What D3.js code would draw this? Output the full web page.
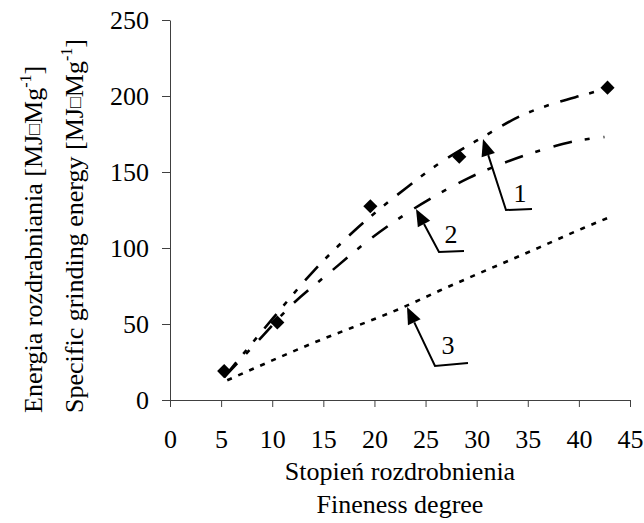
<!DOCTYPE html>
<html>
<head>
<meta charset="utf-8">
<script src="https://cdn.jsdelivr.net/npm/d3@7"></script>
<style>
  body { margin: 0; background: #fff; }
  .axis path, .axis line { stroke: #404040; stroke-width: 1; }
</style>
</head>
<body>
<svg id="Vis" width="644" height="523" font-family="'Liberation Serif', 'Times New Roman', Times, serif">
  <g id="axes"></g>
  <g id="curves"></g>
  <g id="points"></g>
  <g id="arrows"></g>
  <g id="labels"></g>
</svg>
<script>
/*
* DATA
*/

/* measured points */
const pointX = [5.3, 10.5, 19.6, 28.3, 42.8];
const pointY = [19, 51, 127.5, 160, 205.5];

/* trend curves */
const curve1 = [[5.3, 15], [10.1, 54], [14, 84.5], [17.9, 110.5], [23.2, 140], [26.1, 154.6],
  [30.6, 173], [34.5, 187.5], [37.5, 195], [40.4, 200.6], [42.8, 205]];
const curve2 = [[5.3, 15], [8.5, 38], [11.9, 62.5], [15.65, 84], [19.6, 106], [23.8, 125.6],
  [26.4, 136], [29.2, 146], [32.3, 155], [36.9, 165.6], [39.4, 170], [42.5, 173]];
const curve3 = [[5.6, 13], [14, 37.5], [22.8, 61], [26.4, 72], [36.2, 100.6], [40.4, 113], [42.9, 120]];

const curveNames = ["1", "2", "3"];
const xTicks = [0, 5, 10, 15, 20, 25, 30, 35, 40, 45];
const yTicks = [0, 50, 100, 150, 200, 250];

const FONT = "'Liberation Serif', 'Times New Roman', Times, serif";
const FS = 26;

/*
* SETUP
*/

const svg = d3.select("body").select("svg#Vis");

const g = {
  axes: svg.select("g#axes"),
  curves: svg.select("g#curves"),
  points: svg.select("g#points"),
  arrows: svg.select("g#arrows"),
  labels: svg.select("g#labels")
};

const x = d3.scaleLinear().domain([0, 45]).range([170, 630]);
const y = d3.scaleLinear().domain([0, 250]).range([400, 20]);

drawAxes();
drawCurves();
drawPoints();
drawArrows();
drawTitles();

/*
* AXES
*/
function drawAxes() {
  const xAxis = d3.axisBottom(x).tickValues(xTicks).tickSize(7).tickSizeOuter(0);
  const yAxis = d3.axisLeft(y).tickValues(yTicks).tickSize(8).tickSizeOuter(0);

  const gx = g.axes.append("g")
    .attr("class", "axis")
    .attr("transform", translate(0, 400))
    .call(xAxis)
    .attr("font-family", FONT)
    .attr("font-size", FS);
  gx.selectAll("text")
    .attr("y", 48)
    .attr("dy", 0)
    .attr("fill", "#000");

  const gy = g.axes.append("g")
    .attr("class", "axis")
    .attr("transform", translate(170, 0))
    .call(yAxis)
    .attr("font-family", FONT)
    .attr("font-size", FS);
  gy.selectAll("text")
    .attr("x", -21)
    .attr("dy", "0.34em")
    .attr("fill", "#000");
}

/*
* CURVES
*/
function drawCurves() {
  const line = d3.line()
    .x(d => x(d[0]))
    .y(d => y(d[1]))
    .curve(d3.curveMonotoneX);

  // 1: dash-dot-dot, 2: dash-dot, 3: dotted
  const styles = [
    { data: curve1, dash: "19,11,5,11,5,12" },
    { data: curve2, dash: "19,13,5,14" },
    { data: curve3, dash: "5,7" }
  ];

  g.curves.selectAll("path.curve")
    .data(styles)
    .join("path")
      .attr("class", "curve")
      .attr("d", d => line(d.data))
      .attr("fill", "none")
      .attr("stroke", "#000")
      .attr("stroke-width", 2.6)
      .attr("stroke-dasharray", d => d.dash);
}

/* diamonds */
function drawPoints() {
  const diamond = d3.symbol().type(d3.symbolSquare).size(100);
  g.points.selectAll("path.pt")
    .data(pointX.map((v, i) => [v, pointY[i]]))
    .join("path")
      .attr("class", "pt")
      .attr("d", diamond)
      .attr("transform", d => translate(x(d[0]), y(d[1])) + " rotate(45)")
      .attr("fill", "#000");
}

/*
* ARROWS WITH NUMBER LABELS
*/
function drawArrows() {
  // tip, corner, end of the foot, label position (in pixels)
  const arrows = [
    { tip: [483, 139], corner: [506, 210], end: [532, 209], label: [520, 202] },
    { tip: [416, 209], corner: [439, 252], end: [464, 251], label: [451, 243] },
    { tip: [407, 307], corner: [435, 366], end: [468, 363], label: [448, 354] }
  ];

  arrows.forEach(function(a, i) {
    const dx = a.tip[0] - a.corner[0];
    const dy = a.tip[1] - a.corner[1];
    const len = Math.sqrt(dx * dx + dy * dy);
    const ux = dx / len, uy = dy / len;
    const headL = 17, headW = 7;
    const bx = a.tip[0] - ux * headL, by = a.tip[1] - uy * headL;

    g.arrows.append("polyline")
      .attr("points", [a.end, a.corner, [bx, by]].map(p => p.join(",")).join(" "))
      .attr("fill", "none")
      .attr("stroke", "#000")
      .attr("stroke-width", 2);

    g.arrows.append("path")
      .attr("d", "M" + a.tip[0] + "," + a.tip[1] +
        "L" + (bx - uy * headW) + "," + (by + ux * headW) +
        "L" + (bx + uy * headW) + "," + (by - ux * headW) + "Z")
      .attr("fill", "#000");

    g.arrows.append("text")
      .attr("x", a.label[0])
      .attr("y", a.label[1])
      .attr("text-anchor", "middle")
      .attr("font-size", FS)
      .text(curveNames[i]);
  });
}

/*
* AXIS TITLES
*/
function drawTitles() {
  g.labels.append("text")
    .attr("x", 400)
    .attr("y", 480)
    .attr("text-anchor", "middle")
    .attr("font-size", FS)
    .text("Stopień rozdrobnienia");

  g.labels.append("text")
    .attr("x", 400)
    .attr("y", 513)
    .attr("text-anchor", "middle")
    .attr("font-size", FS)
    .text("Fineness degree");

  const yTitles = [
    { text: "Energia rozdrabniania [MJ", x: 42 },
    { text: "Specific grinding energy [MJ", x: 83 }
  ];

  yTitles.forEach(function(t) {
    const txt = g.labels.append("text")
      .attr("transform", translate(t.x, 413) + " rotate(-90)")
      .attr("text-anchor", "start")
      .attr("font-size", FS);
    txt.append("tspan").text(t.text);
    txt.append("tspan").attr("font-size", 18).attr("dy", "-2").text("\u25A1");
    txt.append("tspan").attr("dy", "2").text("Mg");
    txt.append("tspan").attr("font-size", 16).attr("dy", "-11").text("-1");
    txt.append("tspan").attr("dy", "11").text("]");
  });
}

/*
* HELPER FUNCTIONS
*/
function translate(x, y) {
  return 'translate(' + String(x) + ',' + String(y) + ')';
}
</script>
</body>
</html>
